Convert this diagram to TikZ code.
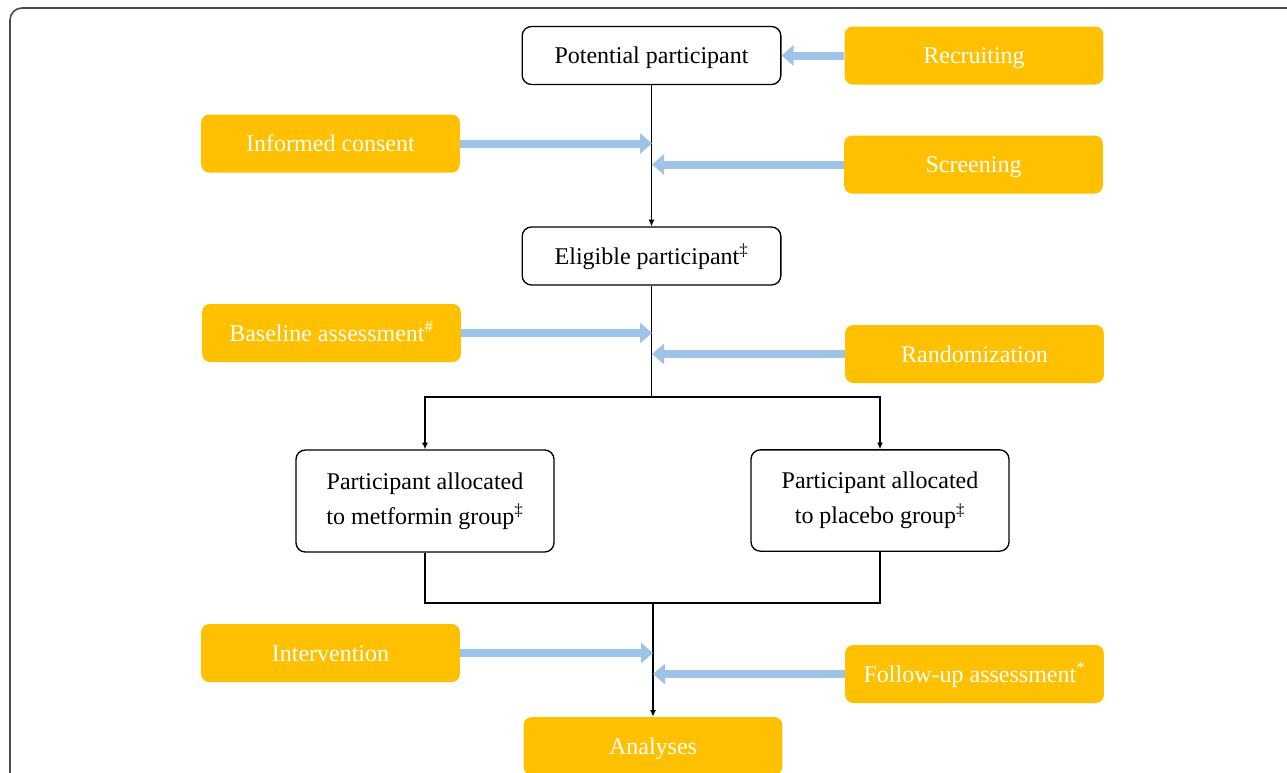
\documentclass[tikz,border=0pt]{standalone}
\usepackage{fontspec}
\setmainfont{Liberation Serif}
\usetikzlibrary{arrows.meta}
\definecolor{orng}{HTML}{FFC000}
\definecolor{lblue}{HTML}{9DC3E6}
\begin{document}
\begin{tikzpicture}[x=0.75pt,y=-0.75pt,
  basebox/.style={minimum width=194pt, minimum height=43.5pt, align=center, font=\fontsize{18}{26}\selectfont, inner sep=0pt},
  oneline/.style={text height=14.5pt, text depth=2pt},
  wbox/.style={basebox, draw=black, line width=1pt, rounded corners=7pt, fill=white},
  obox/.style={basebox, oneline, fill=orng, rounded corners=6pt, text=white},
  flow/.style={draw=black, line width=0.9pt},
  flowarr/.style={flow, -{Latex[length=5pt,width=4.5pt]}},
  barrow/.style={draw=lblue, line width=6pt, -{Triangle[width=15pt,length=9pt]}}
]
\useasboundingbox (0,0) rectangle (1287,772);
\draw[line width=1.2pt, draw=black!70, rounded corners=9pt] (10,8) rectangle (1320,800);

% main boxes
\node[wbox, oneline] (pp) at (651.5,55.5) {Potential participant};
\node[wbox, oneline] (ep) at (651.5,256) {Eligible participant\textsuperscript{‡}};
\node[wbox, minimum width=193.5pt, minimum height=76.5pt] (met) at (425,501) {Participant allocated\\to metformin group\textsuperscript{‡}};
\node[wbox, minimum width=193.5pt, minimum height=76pt] (pla) at (880,500.5) {Participant allocated\\to placebo group\textsuperscript{‡}};
\node[obox] (an) at (653,746) {Analyses};

% orange side boxes
\node[obox] (rec) at (974,55.5) {Recruiting};
\node[obox] (ic) at (330.5,143.5) {Informed consent};
\node[obox] (scr) at (973.5,164.5) {Screening};
\node[obox] (base) at (331.5,333) {Baseline assessment\textsuperscript{\#}};
\node[obox] (rand) at (974.5,354) {Randomization};
\node[obox] (int) at (330.5,653) {Intervention};
\node[obox] (fu) at (974.5,674) {Follow-up assessment\textsuperscript{*}};

% junction coordinates
\coordinate (icT) at (652,143.5);
\coordinate (scrT) at (652,164.5);
\coordinate (baseT) at (652,333);
\coordinate (randT) at (652,354);
\coordinate (split) at (651.5,397);
\coordinate (merge) at (653,603);
\coordinate (intT) at (653,653);
\coordinate (fuT) at (653,674);

% main flow
\draw[flowarr] (pp) -- (ep);
\draw[flow] (ep) -- (split);
\draw[flowarr] (split) -| (met);
\draw[flowarr] (split) -| (pla);
\draw[flow] (met) |- (merge) -| (pla);
\draw[flowarr] (merge) -- (an);

% blue arrows
\draw[barrow] (rec) -- (pp);
\draw[barrow] (ic) -- (icT);
\draw[barrow] (scr) -- (scrT);
\draw[barrow] (base) -- (baseT);
\draw[barrow] (rand) -- (randT);
\draw[barrow] (int) -- (intT);
\draw[barrow] (fu) -- (fuT);
\end{tikzpicture}
\end{document}
